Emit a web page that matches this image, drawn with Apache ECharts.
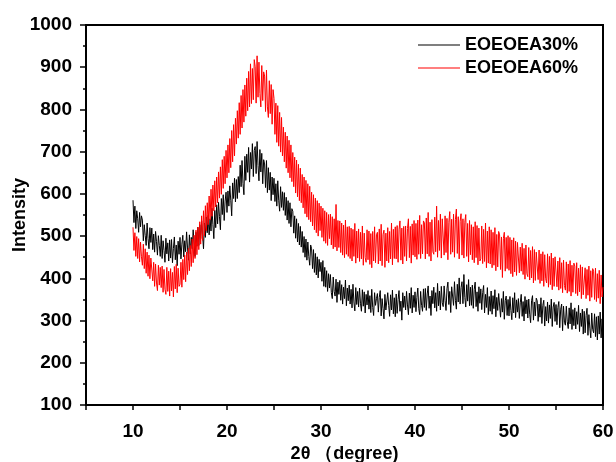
<!DOCTYPE html>
<html>
<head>
<meta charset="utf-8">
<script src="https://cdn.jsdelivr.net/npm/echarts@6/dist/echarts.min.js"></script>
<style>html,body{margin:0;padding:0;background:#fff}#chart{width:616px;height:462px}</style>
</head>
<body>
<div id="chart"></div>
<script>
// 2θ sampling grid of the measurement: starts at 10°, one reading every 0.1°
const thetaStart = 10;
const thetaStep = 0.1;
const seriesNames = ['EOEOEA30%', 'EOEOEA60%'];
const yTicks = [100, 200, 300, 400, 500, 600, 700, 800, 900, 1000];
const xTicks = [10, 20, 30, 40, 50, 60];

// EOEOEA30% intensities, one row per degree (10.0 ... 60.0)
const intensity30 = [
585,532,571,518,560,541,509,556,522,548,
538,489,527,501,478,531,494,470,520,485,
519,468,505,462,511,487,455,501,478,452,
502,447,489,466,438,495,458,484,441,491,
448,492,437,471,498,444,479,430,488,457,
497,446,481,502,451,489,463,510,472,443,
503,458,497,470,515,481,452,509,476,521,
478,527,494,536,503,470,531,497,545,508,
549,503,541,512,566,527,494,561,520,574,
529,580,546,515,589,551,598,537,583,604,
556,607,571,619,585,548,626,589,637,581,
634,589,641,603,668,617,679,625,598,689,
632,694,651,710,628,698,659,719,641,703,
712,648,724,667,631,705,652,696,624,681,
671,615,679,603,662,609,651,584,640,598,
637,582,624,571,631,585,559,617,568,605,
561,603,549,592,538,584,530,579,522,565,
559,507,548,495,541,486,530,479,523,474,
511,461,499,450,493,443,486,452,431,479,
470,423,468,414,459,408,451,401,445,416,
438,393,442,381,426,379,418,369,411,377,
409,366,352,403,369,358,398,343,391,362,
395,348,385,339,379,352,396,335,377,347,
384,339,374,330,386,344,323,378,338,369,
332,377,341,322,373,334,368,318,362,337,
371,327,359,319,374,331,312,366,336,352,
364,320,355,371,311,352,328,304,362,325,
322,366,336,310,361,325,372,316,354,309,
363,317,350,371,322,346,301,366,331,358,
325,369,337,314,365,329,378,318,360,331,
368,321,355,377,328,314,369,336,322,375,
331,376,324,363,382,329,358,312,371,340,
379,330,366,322,388,335,370,325,381,342,
333,382,347,324,375,391,338,369,319,380,
383,336,392,348,327,386,344,401,339,378,
392,340,409,355,332,385,346,397,335,379,
336,384,329,374,391,333,368,322,380,341,
375,326,366,383,318,362,331,378,314,357,
322,370,315,359,328,373,309,355,324,364,
361,308,352,320,369,303,347,358,312,350,
311,357,324,302,354,318,366,307,349,320,
352,305,342,362,310,345,299,357,316,349,
306,351,315,295,347,359,301,344,311,353,
347,298,339,308,354,293,336,348,287,333,
299,344,294,337,305,351,286,332,343,298,
338,290,331,345,283,327,339,276,334,296,
289,334,297,281,330,292,342,279,326,288,
330,280,321,291,336,274,318,286,327,268,
322,271,312,329,265,314,282,259,318,279,
271,316,262,309,254,311,268,320,259,304,
276
];

// EOEOEA60% intensities, one row per degree (10.0 ... 60.0)
const intensity60 = [
521,466,508,452,499,447,494,439,486,451,
431,481,423,470,412,462,405,455,399,448,
447,394,438,381,434,389,371,431,384,426,
378,429,367,421,374,362,426,369,417,358,
423,370,414,356,428,375,433,366,424,381,
386,438,379,445,397,455,392,462,409,471,
418,478,428,493,437,502,447,514,456,521,
468,534,481,548,490,560,501,572,513,579,
527,595,538,611,547,621,560,631,569,640,
579,652,590,664,599,681,613,689,624,703,
638,716,650,731,662,750,676,764,690,779,
718,797,732,816,741,833,756,847,770,858,
784,874,797,890,806,908,814,897,823,918,
901,815,927,829,912,838,806,904,821,889,
879,795,893,806,781,868,790,859,765,847,
826,741,815,722,809,713,793,699,781,690,
758,676,746,661,737,650,727,638,716,629,
698,617,687,602,680,593,670,584,661,579,
646,567,640,553,632,545,624,539,618,534,
604,524,598,515,590,508,584,500,578,513,
571,497,566,488,560,483,556,478,551,494,
552,479,546,470,541,474,575,465,537,473,
536,461,531,455,526,449,538,457,522,452,
523,447,519,441,516,452,530,436,512,448,
517,440,509,446,524,431,507,449,438,515,
444,512,433,506,425,511,441,522,437,503,
509,434,517,441,528,430,504,514,426,507,
441,520,437,511,446,531,432,516,447,522,
446,525,438,515,536,443,519,434,523,452,
524,441,518,541,449,523,436,529,455,537,
451,530,445,538,457,549,447,527,458,536,
531,446,543,458,556,452,533,441,539,463,
457,545,463,571,450,537,466,552,448,541,
537,455,548,461,542,444,533,558,457,540,
462,552,450,539,564,459,546,446,535,553,
455,541,448,533,551,452,530,439,537,456,
527,444,522,437,534,449,525,432,519,441,
446,524,435,516,440,531,425,512,436,522,
434,515,425,509,431,520,418,504,427,511,
503,421,498,402,494,509,417,497,423,501,
419,497,411,491,404,496,415,488,407,485,
481,413,474,417,483,409,471,398,479,411,
404,473,396,466,401,475,389,468,395,462,
461,397,467,388,458,394,463,381,456,399,
389,458,379,452,385,460,373,448,381,451,
447,380,441,372,449,376,437,366,443,383,
372,439,365,434,369,442,358,431,367,436,
429,364,437,359,424,368,432,352,427,361,
357,425,352,421,360,429,346,418,355,423,
417,350,424,345,411,353,419,340,408,356,
379
];

function pairs(vals) {
  return vals.map((v, i) => [+(thetaStart + i * thetaStep).toFixed(1), v]);
}

const FONT = "'Liberation Sans', Arial, sans-serif";
const chart = echarts.init(document.getElementById('chart'), null, { renderer: 'canvas' });
chart.setOption({
  animation: false,
  backgroundColor: '#fff',
  grid: { left: 86, right: 13, top: 25, bottom: 57, outerBoundsMode: 'none', containLabel: false,
    show: true, borderColor: '#000', borderWidth: 2, backgroundColor: 'transparent' },
  legend: {
    orient: 'vertical', left: 418, top: 35, padding: 0, itemGap: 3, itemWidth: 42, itemHeight: 1.2,
    icon: 'rect',
    textStyle: { fontFamily: FONT, fontWeight: 'bold', fontSize: 18, lineHeight: 20, color: '#000' },
    data: seriesNames
  },
  xAxis: {
    type: 'value', min: 5, max: 60, interval: 5,
    name: '2θ （degree)', nameLocation: 'middle', nameGap: 40, nameMoveOverlap: false,
    nameTextStyle: { fontFamily: FONT, fontWeight: 'bold', fontSize: 18, color: '#000' },
    axisLine: { onZero: false, lineStyle: { color: '#000', width: 2 } },
    axisTick: { inside: false, length: 5, lineStyle: { color: '#000', width: 1.5 } },
    splitLine: { show: false },
    axisLabel: { margin: 17, fontFamily: FONT, fontWeight: 'bold', fontSize: 19, color: '#000',
      formatter: v => (xTicks.indexOf(v) >= 0 ? String(v) : '') }
  },
  yAxis: {
    type: 'value', min: yTicks[0], max: yTicks[yTicks.length - 1], interval: 100,
    name: 'Intensity', nameLocation: 'middle', nameGap: 57, nameRotate: 90, nameMoveOverlap: false,
    nameTextStyle: { fontFamily: FONT, fontWeight: 'bold', fontSize: 18, color: '#000' },
    axisLine: { show: true, lineStyle: { color: '#000', width: 2 } },
    axisTick: { inside: false, length: 6, lineStyle: { color: '#000', width: 1.5 } },
    minorTick: { show: true, splitNumber: 2, length: 3, lineStyle: { color: '#000', width: 1.5 } },
    splitLine: { show: false },
    axisLabel: { margin: 14, fontFamily: FONT, fontWeight: 'bold', fontSize: 19, color: '#000',
      formatter: v => String(v) }
  },
  series: [
    { name: seriesNames[0], type: 'line', data: pairs(intensity30), symbol: 'none', showSymbol: false,
      lineStyle: { color: '#000', width: 1 }, itemStyle: { color: '#000' } },
    { name: seriesNames[1], type: 'line', data: pairs(intensity60), symbol: 'none', showSymbol: false,
      lineStyle: { color: '#ff0000', width: 1 }, itemStyle: { color: '#ff0000' } }
  ]
});
</script>
</body>
</html>
